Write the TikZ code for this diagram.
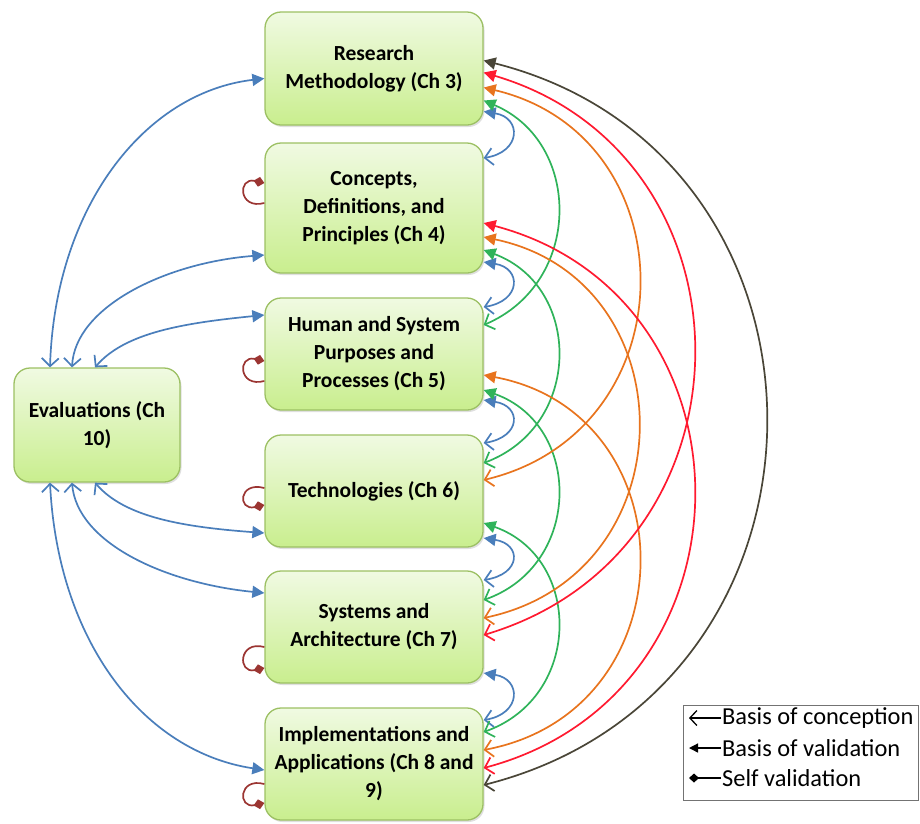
\documentclass[tikz,border=0pt]{standalone}
\usepackage{fontspec}
\setmainfont{Carlito}
\usetikzlibrary{arrows.meta,calc,shadows}

\definecolor{cblue}{HTML}{4A7EBB}
\definecolor{cgreen}{HTML}{2FB35A}
\definecolor{corange}{HTML}{E8741E}
\definecolor{cred}{HTML}{FF1A30}
\definecolor{cdark}{HTML}{4A4638}
\definecolor{cloop}{HTML}{9B3532}
\definecolor{boxtop}{HTML}{F0FAE2}
\definecolor{boxbot}{HTML}{C9EE8E}
\definecolor{boxline}{HTML}{9CC063}

\tikzset{
  chap/.style={draw=boxline, line width=1.3pt, rounded corners=16pt,
    top color=boxtop, bottom color=boxbot, minimum width=218pt,
    align=center, font=\bfseries\fontsize{21.5}{28}\selectfont,
    drop shadow={shadow xshift=1.5pt, shadow yshift=-2pt, opacity=0.25}},
  link/.style={line width=1.7pt,
    {Triangle[length=12pt,width=12pt]}-{Straight Barb[length=8pt,width=17pt]}},
  selfv/.style={draw=cloop, line width=1.7pt, -{Diamond[length=11pt,width=10pt]}},
  legtext/.style={anchor=west, inner sep=0pt, font=\fontsize{24.4}{28}\selectfont},
  legline/.style={line width=1.3pt, black},
}

\begin{document}
\begin{tikzpicture}[x=1pt,y=-1pt]
\useasboundingbox (0,0) rectangle (920,823);

% chapter boxes
\node[chap, minimum height=113pt] (rm)  at (374,68.5) {Research\\Methodology (Ch 3)};
\node[chap, minimum height=130pt] (cdp) at (374,208) {Concepts,\\Definitions, and\\Principles (Ch 4)};
\node[chap, minimum height=112pt] (hsp) at (374,354) {Human and System\\Purposes and\\Processes (Ch 5)};
\node[chap, minimum height=112pt] (tec) at (374,491) {Technologies (Ch 6)};
\node[chap, minimum height=112pt] (sa)  at (374,627) {Systems and\\Architecture (Ch 7)};
\node[chap, minimum height=112pt] (ia)  at (374,764) {Implementations and\\Applications (Ch 8 and\\9)};
\node[chap, minimum width=166pt, minimum height=114pt] (ev) at (97,425) {Evaluations (Ch\\10)};

% right side: neighbouring chapters (blue)
\draw[link, cblue] ($(rm.east)+(0,43)$)  .. controls +(38,6) and +(38,-6) .. ($(cdp.east)+(0,-50)$);
\draw[link, cblue] ($(cdp.east)+(0,54)$) .. controls +(38,6) and +(38,-6) .. ($(hsp.east)+(0,-47)$);
\draw[link, cblue] ($(hsp.east)+(0,46)$) .. controls +(38,6) and +(38,-6) .. ($(tec.east)+(0,-48)$);
\draw[link, cblue] ($(tec.east)+(0,47)$) .. controls +(38,6) and +(38,-6) .. ($(sa.east)+(0,-47)$);
\draw[link, cblue] ($(sa.east)+(0,46)$)  .. controls +(38,6) and +(38,-6) .. ($(ia.east)+(0,-44)$);

% two steps apart (green)
\draw[link, cgreen] ($(rm.east)+(0,32)$)  .. controls +(99,42) and +(99,-42) .. ($(hsp.east)+(0,-29)$);
\draw[link, cgreen] ($(cdp.east)+(0,42)$) .. controls +(99,37) and +(99,-37) .. ($(tec.east)+(0,-28)$);
\draw[link, cgreen] ($(hsp.east)+(0,36)$) .. controls +(99,35) and +(99,-35) .. ($(sa.east)+(0,-27)$);
\draw[link, cgreen] ($(tec.east)+(0,32)$) .. controls +(99,35) and +(99,-35) .. ($(ia.east)+(0,-32)$);

% three steps apart (orange)
\draw[link, corange] ($(rm.east)+(0,19)$)  .. controls +(207,49) and +(207,-49) .. ($(tec.east)+(0,-11)$);
\draw[link, corange] ($(cdp.east)+(0,29)$) .. controls +(206,43) and +(206,-43) .. ($(sa.east)+(0,-9)$);
\draw[link, corange] ($(hsp.east)+(0,21)$) .. controls +(207,39) and +(207,-39) .. ($(ia.east)+(0,-14)$);

% four steps apart (red)
\draw[link, cred] ($(rm.east)+(0,4)$)   .. controls +(280,83) and +(280,-83) .. ($(sa.east)+(0,8)$);
\draw[link, cred] ($(cdp.east)+(0,15)$) .. controls +(280,74) and +(280,-74) .. ($(ia.east)+(0,4)$);

% five steps apart (dark)
\draw[link, cdark] ($(rm.east)+(0,-8)$) .. controls +(376,95) and +(376,-95) .. ($(ia.east)+(0,21)$);

% left side: evaluations
\draw[link, cblue] ($(rm.west)+(0,10)$)   .. controls +(-120,14) and +(5,-160) .. ($(ev.north)+(-47,0)$);
\draw[link, cblue] ($(cdp.west)+(0,47)$)  .. controls +(-100,8) and +(3,-60) .. ($(ev.north)+(-25,0)$);
\draw[link, cblue] ($(hsp.west)+(0,-39)$) .. controls +(-80,8) and +(30,-35) .. ($(ev.north)+(-2,0)$);
\draw[link, cblue] ($(tec.west)+(0,42)$)  .. controls +(-80,-6) and +(30,35) .. ($(ev.south)+(-2,0)$);
\draw[link, cblue] ($(sa.west)+(0,-34)$)  .. controls +(-100,-10) and +(5,60) .. ($(ev.south)+(-25,0)$);
\draw[link, cblue] ($(ia.west)+(0,6)$)    .. controls +(-120,-18) and +(8,160) .. ($(ev.south)+(-47,0)$);

% self validation loops
\draw[selfv] ($(cdp.west)+(0,-5)$) .. controls +(-26,7) and +(-27,-6) .. ($(cdp.west)+(0,-25)$);
\draw[selfv] ($(hsp.west)+(0,27)$) .. controls +(-26,7) and +(-27,-6) .. ($(hsp.west)+(0,7)$);
\draw[selfv] ($(tec.west)+(0,-3)$) .. controls +(-26,-7) and +(-27,6) .. ($(tec.west)+(0,14)$);
\draw[selfv] ($(sa.west)+(0,20)$)  .. controls +(-26,-7) and +(-27,6) .. ($(sa.west)+(0,41)$);
\draw[selfv] ($(ia.west)+(0,20)$)  .. controls +(-26,-7) and +(-27,6) .. ($(ia.west)+(0,39)$);

% legend
\node[draw=black!55, line width=1pt, minimum width=235pt, minimum height=95pt, inner sep=0pt] (legend) at (800.5,752.5) {};
\node[legtext] (lt1) at (722,718) {Basis of conception};
\node[legtext] (lt2) at (722,748) {Basis of validation};
\node[legtext] (lt3) at (722,778) {Self validation};
\coordinate (la1) at (689,718);
\coordinate (la2) at (689,748);
\coordinate (la3) at (689,778);
\draw[legline, -{Straight Barb[length=7pt,width=15pt]}] ([xshift=-1pt]lt1.west) -- (la1);
\draw[legline, -{Triangle[length=9pt,width=9pt]}] ([xshift=-1pt]lt2.west) -- (la2);
\draw[legline, -{Diamond[length=10pt,width=9pt]}] ([xshift=-1pt]lt3.west) -- (la3);
\end{tikzpicture}
\end{document}
